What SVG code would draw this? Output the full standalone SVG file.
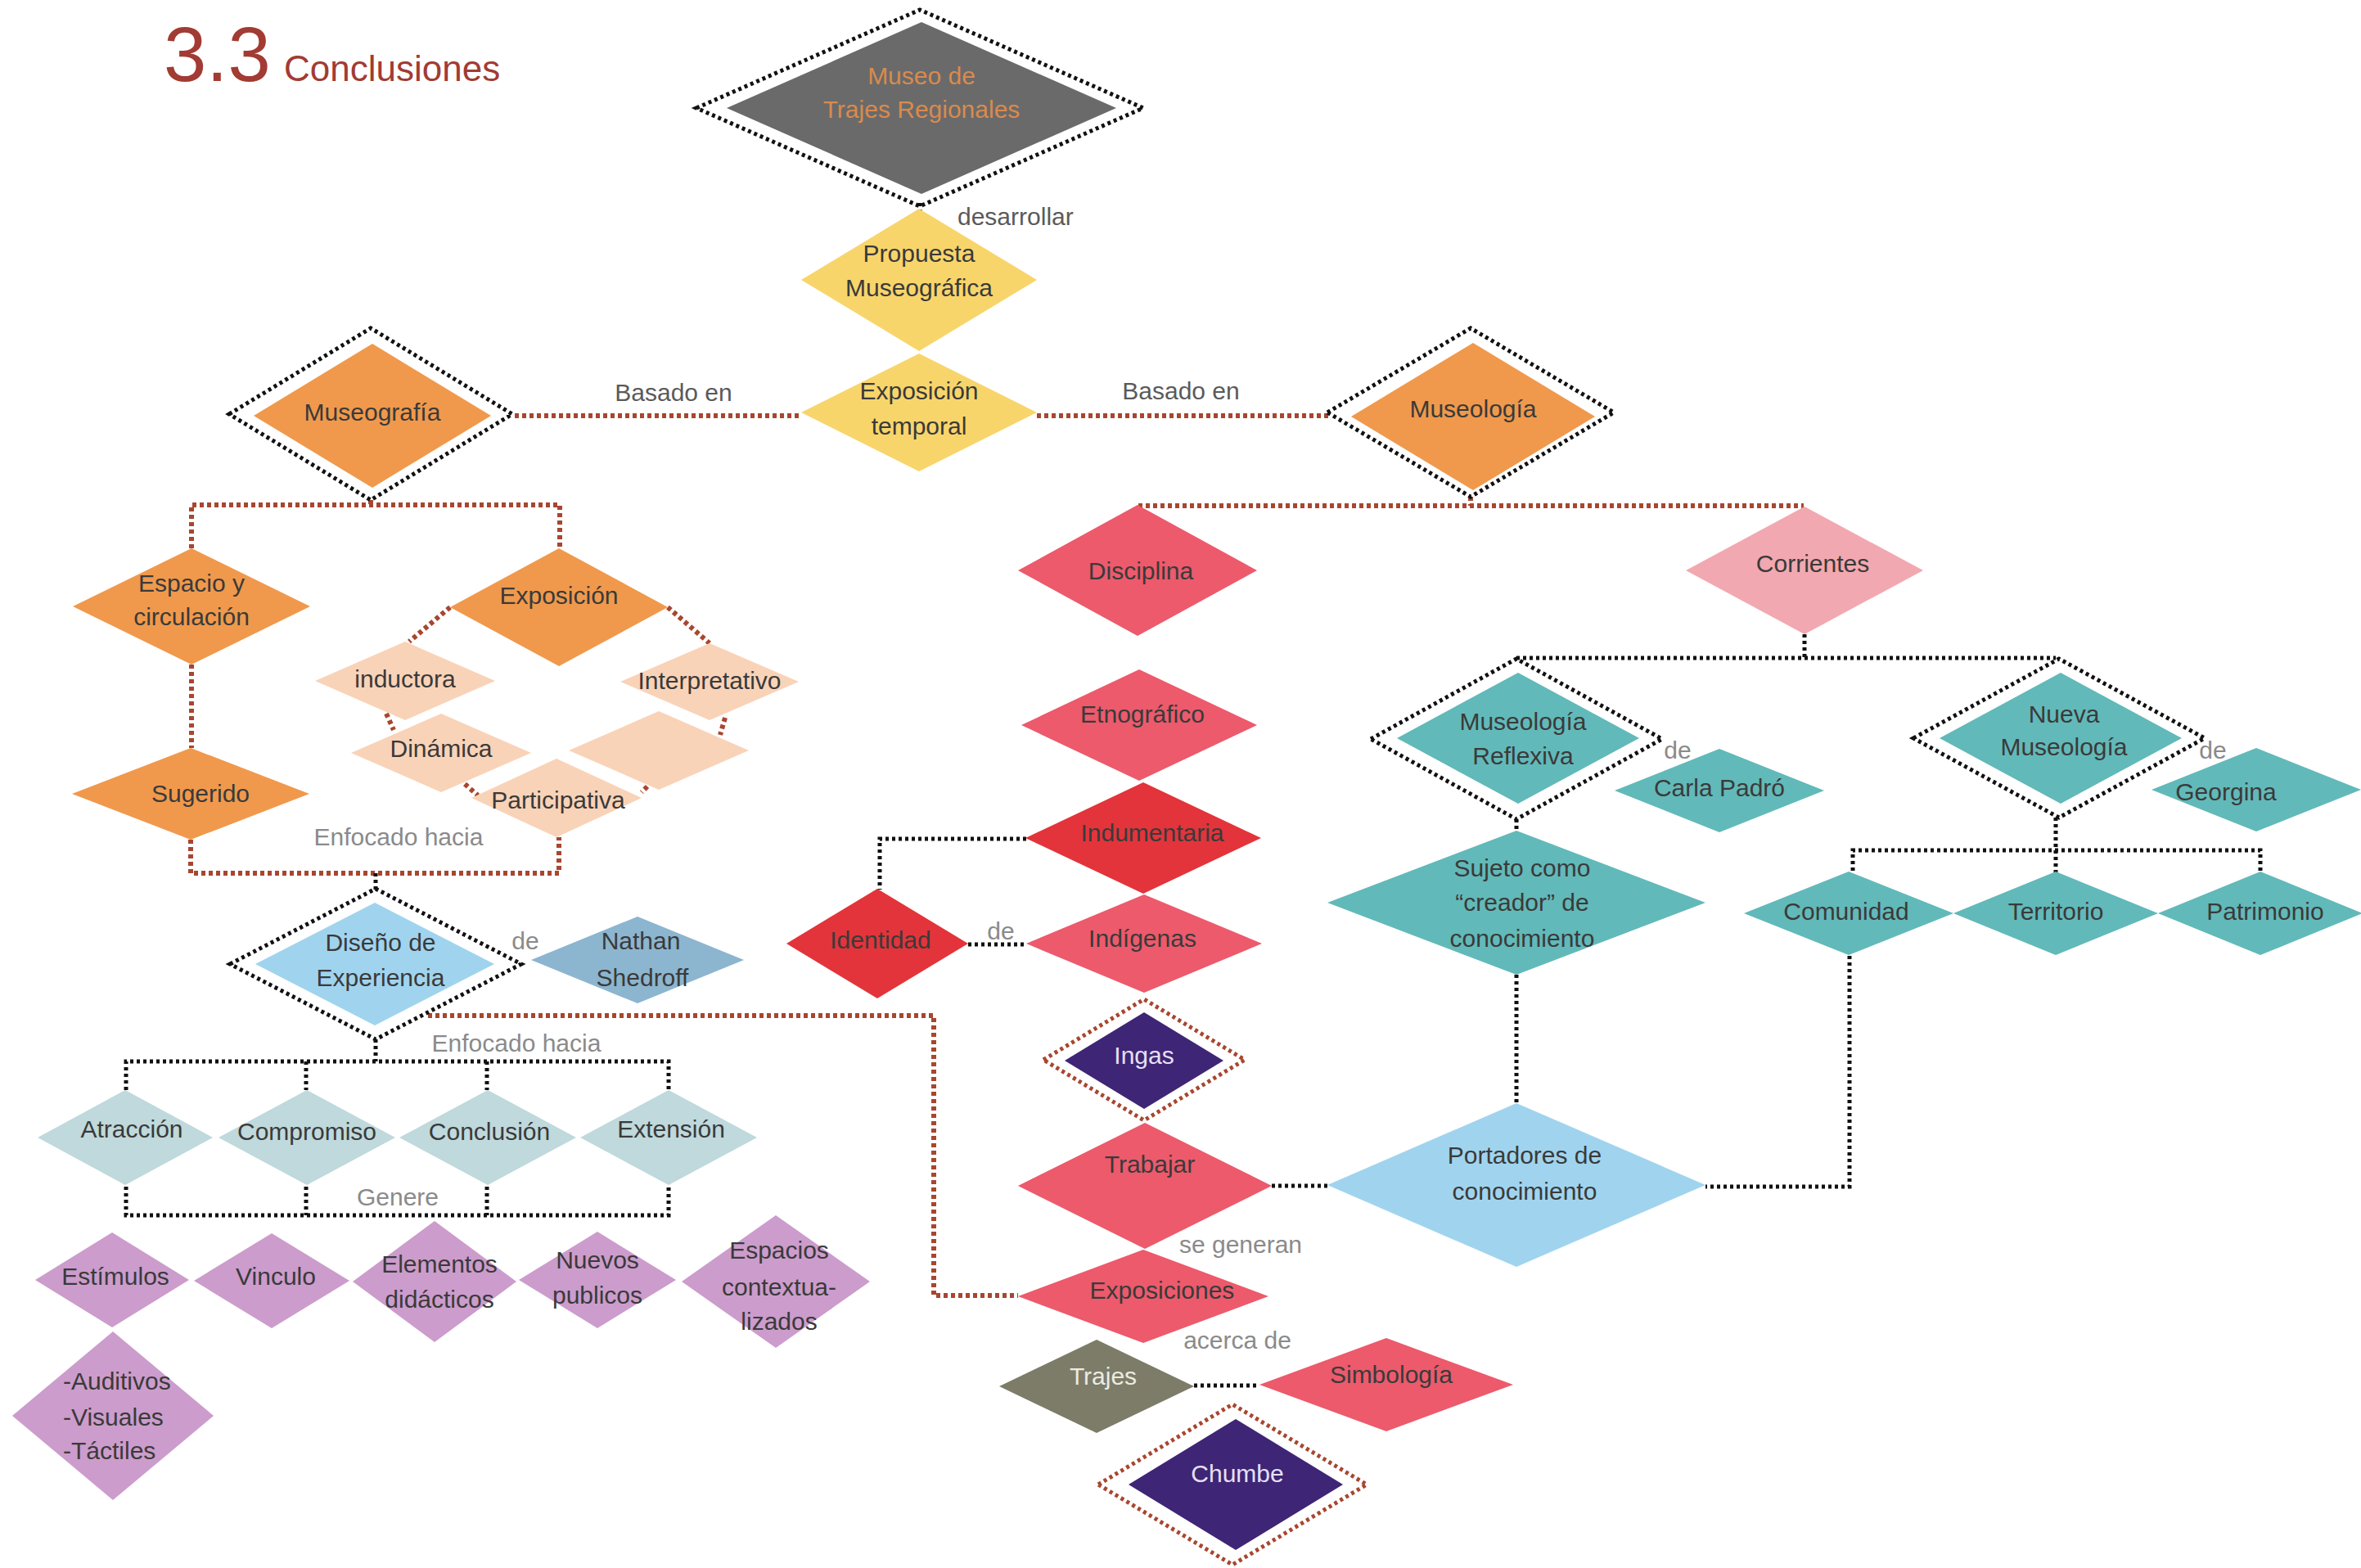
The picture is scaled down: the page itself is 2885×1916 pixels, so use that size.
<svg xmlns="http://www.w3.org/2000/svg" width="2885" height="1916" viewBox="0 0 2885 1916">
<style>
text{font-family:"Liberation Sans",Arial,sans-serif;font-size:30px;fill:#3a3a3a;text-anchor:middle}
.lbl{fill:#5a5a5a}
.lbl2{fill:#8a8a8a}
.title{fill:#a23b33;text-anchor:start}
.od{fill:none;stroke:#111;stroke-width:5;stroke-dasharray:4 4}
.ob{fill:none;stroke:#a8462f;stroke-width:5;stroke-dasharray:4 4}
.cbr{fill:none;stroke:#a8462f;stroke-width:6;stroke-dasharray:5 4}
.cbk{fill:none;stroke:#111;stroke-width:5;stroke-dasharray:4 4}
.grey{fill:#6a6a6a}.yel{fill:#f8d56b}.org{fill:#f0994c}.pch{fill:#f9d3b8}
.rose{fill:#ec5a6c}.red{fill:#e2343a}.pink{fill:#f2a8b0}.teal{fill:#62b9b9}
.lb{fill:#a0d4ee}.nat{fill:#8cb5cf}.ice{fill:#bfd9dc}.mauve{fill:#cc9ccc}
.pur{fill:#3e2575}.olv{fill:#7d7c69}
.wt{fill:#e6e0f5}
</style>
<rect width="2885" height="1916" fill="#fff"/>
<g id="title">
<text class="title" x="200" y="99" style="font-size:94px">3.3</text>
<text class="title" x="347" y="99" style="font-size:44px">Conclusiones</text>
</g>
<g id="connectors">
<path class="cbk" d="M1124,248V257"/>
<path class="cbr" d="M629,508H979M1267,508H1624"/>
<path class="cbr" d="M453,611V617M234,670V617H684V670"/>
<path class="cbr" d="M234,812V914"/>
<path class="cbr" d="M233,1026V1067H683V1023"/>
<path class="cbr" d="M550,742L500,784M816,742L867,786M472,872L481,892M568,958L584,972M886,877L880,898M791,961L784,968"/>
<path class="cbr" d="M1797,607V618M1391,618H2204"/>
<path class="cbr" d="M523,1241H1141V1583H1244"/>
<path class="cbk" d="M459,1067V1087M459,1270V1297M154,1332V1297H817V1332M374,1297V1332M595,1297V1332"/>
<path class="cbk" d="M154,1450V1485H817V1450M374,1450V1485M595,1450V1485"/>
<path class="cbk" d="M2205,775V804M1853,804H2512"/>
<path class="cbk" d="M1853,1001V1015M1853,1191V1348"/>
<path class="cbk" d="M2512,999V1039M2264,1064V1039H2762V1064M2512,1039V1066"/>
<path class="cbk" d="M2260,1168V1450H2084M1554,1449H1623"/>
<path class="cbk" d="M1254,1025H1075V1087M1183,1154H1254M1459,1693H1539"/>
</g>
<g id="edge-labels">
<text class="lbl" x="1170" y="275" style="text-anchor:start">desarrollar</text>
<text class="lbl" x="823" y="490">Basado en</text>
<text class="lbl" x="1443" y="488">Basado en</text>
<text class="lbl2" x="487" y="1033">Enfocado hacia</text>
<text class="lbl2" x="642" y="1160">de</text>
<text class="lbl2" x="631" y="1285">Enfocado hacia</text>
<text class="lbl2" x="486" y="1473">Genere</text>
<text class="lbl2" x="1223" y="1148">de</text>
<text class="lbl2" x="1516" y="1531">se generan</text>
<text class="lbl2" x="1512" y="1648">acerca de</text>
<text class="lbl2" x="2050" y="927">de</text>
<text class="lbl2" x="2704" y="927">de</text>
</g>
<g id="museo"><polygon class="od" points="851,132 1124,12 1397,132 1124,252"/><polygon class="grey" points="888,132 1126,27 1364,132 1126,237"/><text x="1126" y="103" style="fill:#d98a4e">Museo de</text><text x="1126" y="144" style="fill:#d98a4e">Trajes Regionales</text></g>
<g id="propuesta"><polygon class="yel" points="979,342 1123,255 1267,342 1123,429"/><text x="1123" y="320">Propuesta</text><text x="1123" y="362">Museográfica</text></g>
<g id="exposicion-temporal"><polygon class="yel" points="979,504 1123,432 1267,504 1123,576"/><text x="1123" y="488">Exposición</text><text x="1123" y="531">temporal</text></g>
<g id="museografia"><polygon class="od" points="280,506 453,401 626,506 453,611"/><polygon class="org" points="310,508 455,420 600,508 455,596"/><text x="455" y="514">Museografía</text></g>
<g id="museologia"><polygon class="od" points="1622,504 1797,401 1972,504 1797,607"/><polygon class="org" points="1651,509 1800,419 1949,509 1800,599"/><text x="1800" y="510">Museología</text></g>
<g id="espacio"><polygon class="org" points="89,741 234,670 379,741 234,812"/><text x="234" y="723">Espacio y</text><text x="234" y="764">circulación</text></g>
<g id="exposicion"><polygon class="org" points="550,742 683,670 816,742 683,814"/><text x="683" y="738">Exposición</text></g>
<g id="inductora"><polygon class="pch" points="385,832 495,784 605,832 495,880"/><text x="495" y="840">inductora</text></g>
<g id="dinamica"><polygon class="pch" points="429,920 539,872 649,920 539,968"/><text x="539" y="925">Dinámica</text></g>
<g id="interpretativo"><polygon class="pch" points="758,833 867,786 976,833 867,880"/><text x="867" y="842">Interpretativo</text></g>
<g id="blank"><polygon class="pch" points="695,917 805,869 915,917 805,965"/></g>
<g id="participativa"><polygon class="pch" points="576,975 680,927 784,975 680,1023"/><text x="682" y="988">Participativa</text></g>
<g id="sugerido"><polygon class="org" points="88,970 233,914 378,970 233,1026"/><text x="245" y="980">Sugerido</text></g>
<g id="diseno"><polygon class="od" points="281,1178 459,1086 637,1178 459,1270"/><polygon class="lb" points="312,1178 458,1103 604,1178 458,1253"/><text x="465" y="1162">Diseño de</text><text x="465" y="1205">Experiencia</text></g>
<g id="nathan"><polygon class="nat" points="649,1173 779,1120 909,1173 779,1226"/><text x="783" y="1160">Nathan</text><text x="785" y="1205">Shedroff</text></g>
<g id="atraccion"><polygon class="ice" points="46,1390 153,1332 260,1390 153,1448"/><text x="161" y="1390">Atracción</text></g>
<g id="compromiso"><polygon class="ice" points="267,1390 375,1332 483,1390 375,1448"/><text x="375" y="1393">Compromiso</text></g>
<g id="conclusion"><polygon class="ice" points="488,1390 596,1332 704,1390 596,1448"/><text x="598" y="1393">Conclusión</text></g>
<g id="extension"><polygon class="ice" points="709,1390 817,1332 925,1390 817,1448"/><text x="820" y="1390">Extensión</text></g>
<g id="estimulos"><polygon class="mauve" points="43,1564 137,1506 231,1564 137,1622"/><text x="141" y="1570">Estímulos</text></g>
<g id="vinculo"><polygon class="mauve" points="237,1565 332,1507 427,1565 332,1623"/><text x="337" y="1570">Vinculo</text></g>
<g id="elementos"><polygon class="mauve" points="431,1566 531,1492 631,1566 531,1640"/><text x="537" y="1555">Elementos</text><text x="537" y="1598">didácticos</text></g>
<g id="nuevos"><polygon class="mauve" points="634,1564 730,1505 826,1564 730,1623"/><text x="730" y="1550">Nuevos</text><text x="730" y="1593">publicos</text></g>
<g id="espacios"><polygon class="mauve" points="833,1566 948,1485 1063,1566 948,1647"/><text x="952" y="1538">Espacios</text><text x="952" y="1583">contextua-</text><text x="952" y="1625">lizados</text></g>
<g id="auditivos"><polygon class="mauve" points="15,1730 138,1627 261,1730 138,1833"/><text x="77" y="1698" style="text-anchor:start">-Auditivos</text><text x="77" y="1742" style="text-anchor:start">-Visuales</text><text x="77" y="1783" style="text-anchor:start">-Táctiles</text></g>
<g id="disciplina"><polygon class="rose" points="1244,697 1390,617 1536,697 1390,777"/><text x="1394" y="708">Disciplina</text></g>
<g id="etnografico"><polygon class="rose" points="1248,886 1392,818 1536,886 1392,954"/><text x="1396" y="883">Etnográfico</text></g>
<g id="indumentaria"><polygon class="red" points="1253,1024 1397,956 1541,1024 1397,1092"/><text x="1408" y="1028">Indumentaria</text></g>
<g id="identidad"><polygon class="red" points="961,1153 1072,1086 1183,1153 1072,1220"/><text x="1076" y="1159">Identidad</text></g>
<g id="indigenas"><polygon class="rose" points="1254,1153 1398,1093 1542,1153 1398,1213"/><text x="1396" y="1157">Indígenas</text></g>
<g id="ingas"><polygon class="ob" points="1275,1295 1398,1221 1521,1295 1398,1369"/><polygon class="pur" points="1301,1296 1398,1237 1495,1296 1398,1355"/><text class="wt" x="1398" y="1300">Ingas</text></g>
<g id="trabajar"><polygon class="rose" points="1244,1449 1399,1372 1554,1449 1399,1526"/><text x="1405" y="1433">Trabajar</text></g>
<g id="portadores"><polygon class="lb" points="1622,1448 1853,1348 2084,1448 1853,1548"/><text x="1863" y="1422">Portadores de</text><text x="1863" y="1466">conocimiento</text></g>
<g id="exposiciones"><polygon class="rose" points="1244,1584 1397,1527 1550,1584 1397,1641"/><text x="1420" y="1587">Exposiciones</text></g>
<g id="trajes"><polygon class="olv" points="1221,1694 1340,1637 1459,1694 1340,1751"/><text x="1348" y="1692" style="fill:#ecebe0">Trajes</text></g>
<g id="simbologia"><polygon class="rose" points="1539,1692 1694,1635 1849,1692 1694,1749"/><text x="1700" y="1690">Simbología</text></g>
<g id="chumbe"><polygon class="ob" points="1342,1814 1506,1716 1670,1814 1506,1912"/><polygon class="pur" points="1379,1814 1510,1734 1641,1814 1510,1894"/><text class="wt" x="1512" y="1811">Chumbe</text></g>
<g id="corrientes"><polygon class="pink" points="2060,697 2205,619 2350,697 2205,775"/><text x="2215" y="699">Corrientes</text></g>
<g id="museologia-reflexiva"><polygon class="od" points="1675,903 1853,805 2031,903 1853,1001"/><polygon class="teal" points="1707,902 1855,822 2003,902 1855,982"/><text x="1861" y="892">Museología</text><text x="1861" y="934">Reflexiva</text></g>
<g id="carla"><polygon class="teal" points="1973,966 2101,915 2229,966 2101,1017"/><text x="2101" y="973">Carla Padró</text></g>
<g id="nueva-museologia"><polygon class="od" points="2338,902 2516,805 2694,902 2516,999"/><polygon class="teal" points="2370,902 2518,822 2666,902 2518,982"/><text x="2522" y="883">Nueva</text><text x="2522" y="923">Museología</text></g>
<g id="georgina"><polygon class="teal" points="2629,965 2757,914 2885,965 2757,1016"/><text x="2720" y="978">Georgina</text></g>
<g id="sujeto"><polygon class="teal" points="1622,1103 1853,1015 2084,1103 1853,1191"/><text x="1860" y="1071">Sujeto como</text><text x="1860" y="1113">“creador” de</text><text x="1860" y="1157">conocimiento</text></g>
<g id="comunidad"><polygon class="teal" points="2131,1116 2259,1065 2387,1116 2259,1167"/><text x="2256" y="1124">Comunidad</text></g>
<g id="territorio"><polygon class="teal" points="2387,1116 2512,1065 2637,1116 2512,1167"/><text x="2512" y="1124">Territorio</text></g>
<g id="patrimonio"><polygon class="teal" points="2637,1116 2762,1065 2887,1116 2762,1167"/><text x="2768" y="1124">Patrimonio</text></g>
</svg>
